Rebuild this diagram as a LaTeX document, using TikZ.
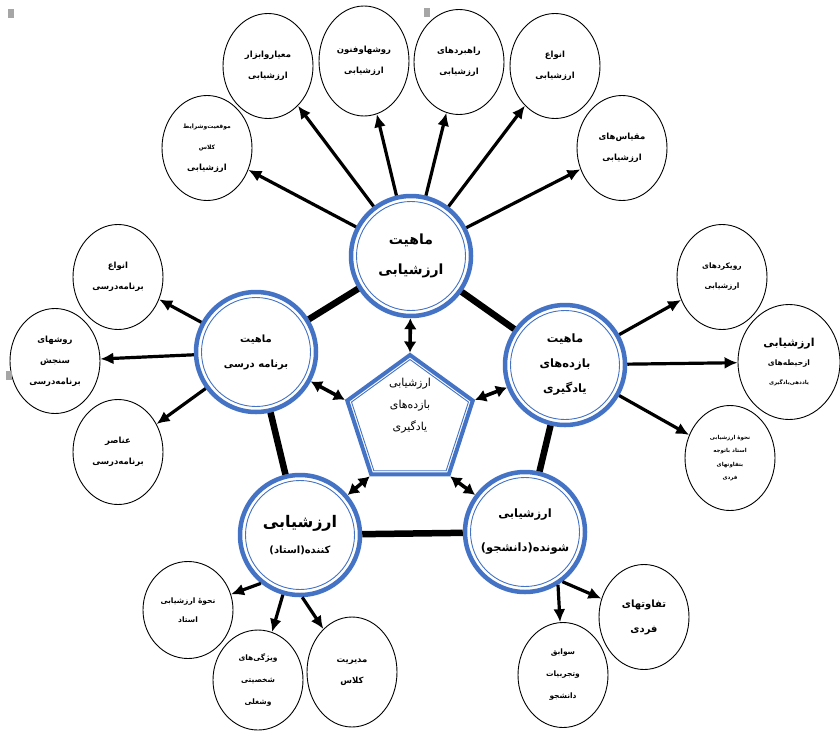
\documentclass[tikz,border=0pt]{standalone}
\usepackage{fontspec}
\usepackage{tikz}
\usetikzlibrary{positioning,arrows.meta,calc,shapes.geometric}
\newfontfamily\farsi[Script=Arabic]{DejaVu Sans}
\TeXXeTstate=1
\newcommand{\fa}[1]{\beginR #1\endR}
\definecolor{ringblue}{RGB}{68,114,196}

\begin{document}
\begin{tikzpicture}[
  x=1pt, y=-1pt,
  every node/.style={font=\farsi\bfseries},
  ring/.style={circle, draw=ringblue, line width=4.5pt, fill=white, minimum size=120pt, inner sep=0pt, align=center,
    path picture={\draw[ringblue, line width=0.9pt] (path picture bounding box.center) circle[radius=54.5pt];}},
  hub/.style={regular polygon, regular polygon sides=5, draw=ringblue, line width=4pt, fill=white, minimum size=132pt, inner sep=0pt},
  sat/.style={ellipse, draw, line width=0.9pt, minimum width=90pt, minimum height=105pt, inner sep=0pt, align=center,
    font=\farsi\bfseries\fontsize{8.5}{21}\selectfont},
  link/.style={line width=6.5pt},
  arr/.style={line width=3.2pt, -{Latex[length=13pt,width=12pt]}},
  dbl/.style={line width=3.6pt, {Latex[length=11pt,width=13pt]}-{Latex[length=11pt,width=13pt]}},
]
\path[use as bounding box, fill=white] (0,0) rectangle (840,736);

% main ring
\node[ring, font=\farsi\bfseries\fontsize{14}{30}\selectfont] (evalN) at (411,256) {\fa{ماهیت}\\\fa{ارزشیابی}};
\node[ring, font=\farsi\bfseries\fontsize{10}{25}\selectfont] (curr) at (256,352) {\fa{ماهیت}\\\fa{برنامه درسی}};
\node[ring, font=\farsi\bfseries\fontsize{11.5}{25}\selectfont] (outc) at (565,365) {\fa{ماهیت}\\\fa{بازده^^^^200cهای}\\\fa{یادگیری}};
\node[ring, font=\farsi\bfseries\fontsize{10}{26}\selectfont] (teach) at (300,535) {{\fontsize{16}{20}\selectfont\fa{ارزشیابی}}\\\fa{کننده(استاد)}};
\node[ring, font=\farsi\bfseries\fontsize{11.5}{34}\selectfont] (stud) at (525,532) {\fa{ارزشیابی}\\\fa{شونده(دانشجو)}};

\node[hub, label={[align=center, yshift=15pt, font=\farsi\mdseries\fontsize{11}{22}\selectfont]center:{\fa{ارزشیابی}\\\fa{بازده^^^^200cهای}\\\fa{یادگیری}}}] (hub) at (410,421) {};
\draw[ringblue, line width=0.9pt] ($(hub.corner 1)!7pt!(hub.center)$) -- ($(hub.corner 2)!7pt!(hub.center)$)
  -- ($(hub.corner 3)!7pt!(hub.center)$) -- ($(hub.corner 4)!7pt!(hub.center)$)
  -- ($(hub.corner 5)!7pt!(hub.center)$) -- cycle;

% satellites
\node[sat] (s1) at (207,148) {{\fontsize{6}{13}\selectfont\fa{موقعیت^^^^200cوشرایط}}\\{\fontsize{6}{13}\selectfont\fa{کلاس}}\\\fa{ارزشیابی}};
\node[sat] (s2) at (268,66) {\fa{معیاروابزار}\\\fa{ارزشیابی}};
\node[sat, minimum height=110pt] (s3) at (364,61) {\fa{روشهاوفنون}\\\fa{ارزشیابی}};
\node[sat] (s4) at (459,62) {\fa{راهبردهای}\\\fa{ارزشیابی}};
\node[sat] (s5) at (555,66) {\fa{انواع}\\\fa{ارزشیابی}};
\node[sat] (s6) at (622,148) {\fa{مقیاس^^^^200cهای}\\\fa{ارزشیابی}};

\node[sat] (l1) at (118,277) {\fa{انواع}\\\fa{برنامه^^^^200cدرسی}};
\node[sat] (l2) at (55,361) {\fa{روشهای}\\\fa{سنجش}\\\fa{برنامه^^^^200cدرسی}};
\node[sat] (l3) at (118,452) {\fa{عناصر}\\\fa{برنامه^^^^200cدرسی}};

\node[sat, font=\farsi\bfseries\fontsize{7.5}{20}\selectfont] (r1) at (722,277) {\fa{رویکردهای}\\\fa{ارزشیابی}};
\node[sat, minimum width=102pt, minimum height=115pt, font=\farsi\bfseries\fontsize{7.5}{19}\selectfont] (r2) at (789,362) {{\fontsize{11}{14}\selectfont\fa{ارزشیابی}}\\\fa{ازحیطه^^^^200cهای}\\{\fontsize{5.5}{10}\selectfont\fa{یاددهی^^^^200cیادگیری}}};
\node[sat, font=\farsi\bfseries\fontsize{5.5}{13.5}\selectfont] (r3) at (730,458) {\fa{نحوه^^^^0654 ارزشیابی}\\\fa{استاد باتوجه}\\\fa{بتفاوتهای}\\\fa{فردی}};

\node[sat, minimum height=97pt, font=\farsi\bfseries\fontsize{7.5}{19}\selectfont] (b1) at (188,610) {\fa{نحوه^^^^0654 ارزشیابی}\\\fa{استاد}};
\node[sat, minimum height=100pt, font=\farsi\bfseries\fontsize{7.5}{22}\selectfont] (b2) at (258,680) {\fa{ویژگی^^^^200cهای}\\\fa{شخصیتی}\\\fa{وشغلی}};
\node[sat, minimum height=110pt] (b3) at (352,672) {\fa{مدیریت}\\\fa{کلاس}};

\node[sat, font=\farsi\bfseries\fontsize{10}{25}\selectfont] (br1) at (644,617) {\fa{تفاوتهای}\\\fa{فردی}};
\node[sat, font=\farsi\bfseries\fontsize{7.5}{22}\selectfont] (br2) at (563,675) {\fa{سوابق}\\\fa{وتجربیات}\\\fa{دانشجو}};

% ring links
\draw[link] (evalN) -- (curr);
\draw[link] (evalN) -- (outc);
\draw[link] (curr) -- (teach);
\draw[link] (outc) -- (stud);
\draw[link] (teach) -- (stud);

% hub to ring
\draw[dbl] (hub.corner 1) -- (evalN);
\draw[dbl] (hub.corner 2) -- (curr);
\draw[dbl] (hub.corner 5) -- (outc);
\draw[dbl] (hub.corner 3) -- (teach);
\draw[dbl] (hub.corner 4) -- (stud);

% arrows out
\foreach \t in {s1,s2,s3,s4,s5,s6} \draw[arr] (evalN) -- (\t);
\foreach \t in {l1,l2,l3} \draw[arr] (curr) -- (\t);
\foreach \t in {r1,r2,r3} \draw[arr] (outc) -- (\t);
\draw[arr] (teach.-129) -- (b1);
\draw[arr] (teach.-106) -- (b2);
\draw[arr] (teach.-88) -- (b3);
\draw[arr] (stud.-53) -- (br1);
\draw[arr] (stud.-58) -- (br2);

% handles
\foreach \hx/\hy in {11/13, 427/12, 9/375}
  \fill[gray!70] (\hx-3,\hy-4.5) rectangle (\hx+3,\hy+4.5);
\end{tikzpicture}
\end{document}
